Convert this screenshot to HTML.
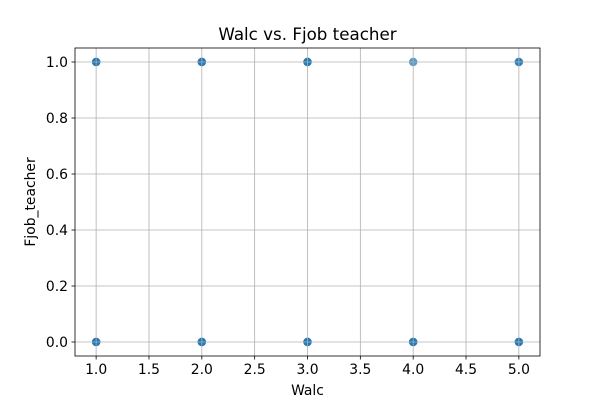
<!DOCTYPE html>
<html><head><meta charset="utf-8"><style>
html,body{margin:0;padding:0;background:#fff;}
svg{display:block;font-family:"DejaVu Sans","Liberation Sans",sans-serif;}
</style></head><body>
<svg id="chart" width="600" height="400" viewBox="0 0 600 400">
<rect width="600" height="400" fill="#fff"/>
<text x="307.5" y="40" text-anchor="middle" font-size="16.7" fill="#000">Walc vs. Fjob teacher</text>
<g id="pts"></g><g id="grid"></g><g id="ticks"></g>
<rect x="75" y="48" width="465" height="308" fill="none" stroke="#000" stroke-width="0.8"/>
<text x="307.5" y="395" text-anchor="middle" font-size="13.9">Walc</text>
<text transform="translate(35,202) rotate(-90)" text-anchor="middle" font-size="13.9">Fjob_teacher</text>
</svg>
<script>
const xTicks=[1.0,1.5,2.0,2.5,3.0,3.5,4.0,4.5,5.0];
const yTicks=[0.0,0.2,0.4,0.6,0.8,1.0];
const pointX=[1,1,1,1,1,1,2,2,2,2,2,2,3,3,3,3,3,3,4,4,4,4,5,5,5,5,5];
const pointY=[0,0,0,1,1,1,0,0,0,1,1,1,0,0,0,1,1,1,0,0,0,1,0,0,0,1,1];
const L=75,R=540,T=48,B=356,xmin=0.8,xmax=5.2,ymin=-0.05,ymax=1.05;
const sx=v=>L+(v-xmin)/(xmax-xmin)*(R-L);
const sy=v=>B-(v-ymin)/(ymax-ymin)*(B-T);
const NS="http://www.w3.org/2000/svg";
const g=document.getElementById('grid'),p=document.getElementById('pts'),tk=document.getElementById('ticks');
function mk(tag,attrs,parent){const e=document.createElementNS(NS,tag);for(const k in attrs)e.setAttribute(k,attrs[k]);parent.appendChild(e);return e;}
xTicks.forEach(v=>{
  const x=sx(v);
  const gl=mk('line',{x1:x,x2:x,y1:T,y2:B,stroke:'#b0b0b0','stroke-width':0.8},g);
  
  
  const t=mk('line',{x1:x,x2:x,y1:B,y2:B+3.5,stroke:'#000','stroke-width':0.8},tk);
  
  
  const l=mk('text',{x:x,y:B+18,'text-anchor':'middle','font-size':13.9},tk);
  l.textContent=v.toFixed(1);
  
  
});
yTicks.forEach(v=>{
  const y=sy(v);
  const gl=mk('line',{x1:L,x2:R,y1:y,y2:y,stroke:'#b0b0b0','stroke-width':0.8},g);
  
  
  const t=mk('line',{x1:L-3.5,x2:L,y1:y,y2:y,stroke:'#000','stroke-width':0.8},tk);
  
  
  const l=mk('text',{x:L-7,y:y+5,'text-anchor':'end','font-size':13.9},tk);
  l.textContent=v.toFixed(1);
  
  
});
pointX.forEach((v,i)=>{
  const c=mk('circle',{cx:sx(v),cy:sy(pointY[i]),r:4.2,fill:'#1f77b4','fill-opacity':0.75},p);
  
  
});
</script>
</body></html>
